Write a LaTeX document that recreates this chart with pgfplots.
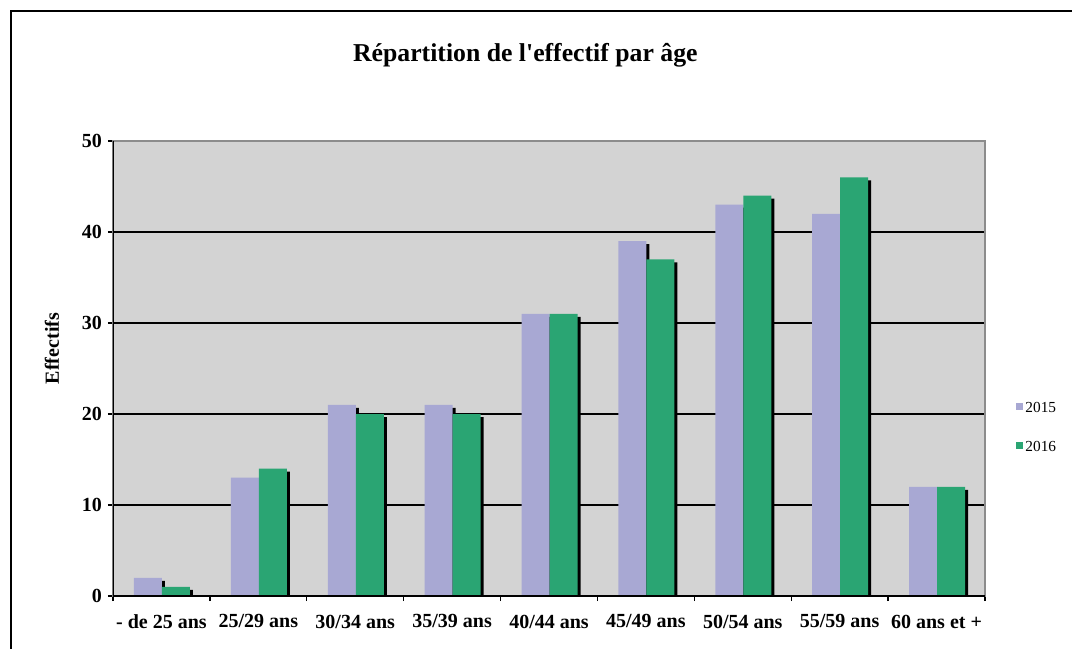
\documentclass[border=0pt]{standalone}
\usepackage{fontspec}
\setmainfont{Liberation Serif}
\usepackage{pgfplots}
\usepackage{pgfplotstable}
\pgfplotsset{compat=1.18}
\definecolor{lav}{RGB}{168,168,211}
\definecolor{grn}{RGB}{42,165,115}
\definecolor{bg}{RGB}{211,211,211}
\definecolor{bordergray}{RGB}{140,140,140}

\pgfplotstableread{
x v15 v16
0 2 1
1 13 14
2 21 20
3 21 20
4 31 31
5 39 37
6 43 44
7 42 46
8 12 12
}\data

\begin{document}
\begin{tikzpicture}
\useasboundingbox (0,0) rectangle (804pt,-486.75pt);
\draw[line width=1.2pt] (8.25pt,-500pt) -- (8.25pt,-8.25pt) -- (820pt,-8.25pt);
\node[font=\bfseries\fontsize{19.3}{22}\selectfont] at (394pt,-41.2pt) {Répartition de l\textquotesingle effectif par âge};
\begin{axis}[
  at={(84.75pt,-447pt)}, anchor=south west,
  width=654pt, height=341.25pt, scale only axis,
  xmin=-0.5, xmax=8.5, ymin=0, ymax=50,
  axis background/.style={fill=bg},
  axis line style={bordergray, line width=1.1pt},
  ytick={0,10,...,50},
  ymajorgrids, grid style={black, line width=1.1pt},
  xtick={-0.5,0.5,...,8.5}, xticklabels={},
  extra x ticks={0,1,...,8},
  extra x tick labels={- de 25 ans,25/29 ans,30/34 ans,35/39 ans,40/44 ans,45/49 ans,50/54 ans,55/59 ans,60 ans et +},
  extra x tick style={major tick length=0pt, tick style={draw=none}, tick label style={yshift=-10.5pt}},
  tick pos=left, tick align=outside, major tick length=3.75pt,
  tick style={black, line width=1pt},
  ticklabel style={font=\bfseries\fontsize{15}{18}\selectfont},
  yticklabel style={xshift=-1pt},
  /pgf/number format/assume math mode=true,
  ylabel={Effectifs},
  ylabel style={font=\bfseries\fontsize{15}{18}\selectfont, at={(axis description cs:-0.07,0.544)}, anchor=center},
  legend style={draw=none, fill=none, at={(1.035,0.369)}, anchor=west,
    font=\fontsize{11.5}{14}\selectfont, row sep=16pt, inner sep=0pt},
  legend cell align=left,
  legend image code/.code={\fill[#1] (0pt,-1pt) rectangle (5.25pt,4.25pt);},
]
\addplot[ybar, bar width=0.289, bar shift=-0.108, fill=black, draw=none, forget plot]
  table[x=x, y expr=\thisrow{v15}-0.33] {\data};
\addplot[ybar, bar width=0.289, bar shift=-0.139, fill=lav, draw=none]
  table[x=x, y=v15] {\data};
\addplot[ybar, bar width=0.289, bar shift=0.181, fill=black, draw=none, forget plot]
  table[x=x, y expr=\thisrow{v16}-0.33] {\data};
\addplot[ybar, bar width=0.289, bar shift=0.15, fill=grn, draw=none]
  table[x=x, y=v16] {\data};
\legend{2015,2016}
\draw[bordergray, line width=1.1pt] (rel axis cs:0,1) -- (rel axis cs:1,1) -- (rel axis cs:1,0);
\draw[black, line width=1.3pt] (rel axis cs:0,1) -- (rel axis cs:0,0) -- (rel axis cs:1,0);
\end{axis}
\end{tikzpicture}
\end{document}
